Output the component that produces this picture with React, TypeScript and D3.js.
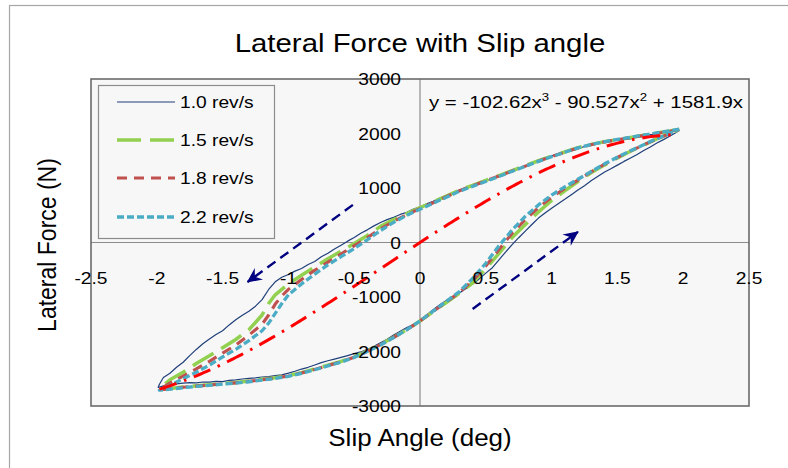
import React from "react";
import * as d3 from "d3";

type P = [number, number];

// ---------- data ----------
const xTicks = [-2.5, -2, -1.5, -1, -0.5, 0, 0.5, 1, 1.5, 2, 2.5];
const xTickLabels = ["-2.5", "-2", "-1.5", "-1", "-0.5", "0", "0.5", "1", "1.5", "2", "2.5"];
const yTicks = [-3000, -2000, -1000, 0, 1000, 2000, 3000];
const yTickLabels = ["-3000", "-2000", "-1000", "0", "1000", "2000", "3000"];

const seriesNames = ["1.0 rev/s", "1.5 rev/s", "1.8 rev/s", "2.2 rev/s"];

const rev10: P[] = [
  [1.96, 2040], [1.93, 2045], [1.90, 2025], [1.85, 2012], [1.80, 1985], [1.75, 1978], [1.70, 1948], [1.65, 1932],
  [1.60, 1902], [1.55, 1892], [1.50, 1875], [1.45, 1862], [1.40, 1836], [1.35, 1822], [1.30, 1785], [1.25, 1762],
  [1.20, 1722], [1.15, 1700], [1.10, 1662], [1.05, 1632], [1.00, 1585], [0.95, 1545], [0.90, 1488], [0.85, 1448],
  [0.80, 1392], [0.75, 1350], [0.70, 1296], [0.65, 1258], [0.60, 1212], [0.55, 1172], [0.50, 1125], [0.45, 1092],
  [0.40, 1045], [0.35, 1012], [0.30, 962], [0.25, 918], [0.20, 862], [0.15, 815], [0.10, 756], [0.05, 712],
  [0.00, 652], [-0.05, 612], [-0.10, 556], [-0.15, 515], [-0.20, 462], [-0.25, 420], [-0.30, 366], [-0.35, 305],
  [-0.40, 232], [-0.45, 168], [-0.50, 92], [-0.55, 25], [-0.60, -52], [-0.65, -118], [-0.70, -198], [-0.75, -262],
  [-0.80, -348], [-0.85, -405], [-0.90, -478], [-0.95, -525], [-1.00, -588], [-1.05, -638], [-1.10, -722],
  [-1.15, -862], [-1.20, -1048], [-1.25, -1168], [-1.30, -1262], [-1.35, -1335], [-1.40, -1418], [-1.45, -1512],
  [-1.50, -1618], [-1.55, -1690], [-1.60, -1772], [-1.65, -1858], [-1.70, -1962], [-1.75, -2075], [-1.80, -2198],
  [-1.85, -2290], [-1.90, -2398], [-1.95, -2478], [-1.98, -2600],
  [-1.99, -2660], [-1.95, -2630], [-1.90, -2612], [-1.85, -2595], [-1.80, -2582], [-1.75, -2570], [-1.70, -2575],
  [-1.65, -2560], [-1.60, -2562], [-1.55, -2548], [-1.50, -2552], [-1.45, -2530], [-1.40, -2522], [-1.35, -2505],
  [-1.30, -2492], [-1.25, -2485], [-1.20, -2468], [-1.15, -2460], [-1.10, -2442], [-1.05, -2428], [-1.00, -2398],
  [-0.95, -2362], [-0.90, -2322], [-0.85, -2290], [-0.80, -2248], [-0.75, -2205], [-0.70, -2170], [-0.65, -2140],
  [-0.60, -2108], [-0.55, -2075], [-0.50, -2040], [-0.45, -2008], [-0.40, -1962], [-0.35, -1905], [-0.30, -1838],
  [-0.25, -1775], [-0.20, -1698], [-0.15, -1630], [-0.10, -1562], [-0.05, -1505], [0.00, -1432], [0.05, -1328],
  [0.10, -1232], [0.15, -1140], [0.20, -1062], [0.25, -995], [0.30, -928], [0.35, -845], [0.40, -762], [0.45, -668],
  [0.50, -562], [0.55, -462], [0.60, -318], [0.65, -175], [0.70, -38], [0.75, 88], [0.80, 208], [0.85, 330],
  [0.90, 448], [0.95, 542], [1.00, 628], [1.05, 710], [1.10, 792], [1.15, 878], [1.20, 965], [1.25, 1042],
  [1.30, 1132], [1.35, 1210], [1.40, 1288], [1.45, 1352], [1.50, 1420], [1.55, 1488], [1.60, 1552], [1.65, 1615],
  [1.70, 1688], [1.75, 1752], [1.80, 1825], [1.85, 1888], [1.90, 1955], [1.94, 2010], [1.96, 2040],
];

const rev15: P[] = [
  [1.97, 2075], [1.9, 2045], [1.8, 2010], [1.7, 1968], [1.6, 1928], [1.5, 1888], [1.4, 1848], [1.3, 1800],
  [1.2, 1740], [1.1, 1660], [1.0, 1585], [0.9, 1500], [0.8, 1410], [0.7, 1320], [0.6, 1228], [0.5, 1140],
  [0.4, 1050], [0.3, 962], [0.2, 852], [0.1, 742], [0, 640], [-0.1, 530], [-0.2, 420], [-0.3, 295], [-0.4, 130],
  [-0.5, -20], [-0.6, -160], [-0.7, -300], [-0.8, -450], [-0.9, -600], [-1.0, -760], [-1.05, -860], [-1.1, -960],
  [-1.15, -1120], [-1.2, -1330], [-1.3, -1600], [-1.4, -1780], [-1.5, -1930], [-1.6, -2080], [-1.7, -2220],
  [-1.8, -2380], [-1.9, -2520], [-1.98, -2680],
  [-1.98, -2700], [-1.9, -2680], [-1.8, -2650], [-1.7, -2630], [-1.6, -2610], [-1.5, -2590], [-1.4, -2570],
  [-1.3, -2540], [-1.2, -2510], [-1.1, -2480], [-1.0, -2440], [-0.9, -2390], [-0.8, -2320], [-0.7, -2250],
  [-0.6, -2180], [-0.5, -2100], [-0.4, -1990], [-0.3, -1870], [-0.2, -1740], [-0.1, -1600], [0, -1440],
  [0.1, -1270], [0.2, -1100], [0.3, -930], [0.4, -740], [0.5, -480], [0.6, -200], [0.7, 90], [0.8, 330],
  [0.9, 560], [1.0, 770], [1.1, 950], [1.2, 1120], [1.3, 1280], [1.4, 1420], [1.5, 1550], [1.6, 1675],
  [1.7, 1790], [1.8, 1900], [1.9, 2000], [1.97, 2075],
];

const rev18: P[] = [
  [1.97, 2070], [1.9, 2040], [1.8, 2005], [1.7, 1965], [1.6, 1925], [1.5, 1885], [1.4, 1845], [1.3, 1795],
  [1.2, 1735], [1.1, 1655], [1.0, 1578], [0.9, 1492], [0.8, 1402], [0.7, 1312], [0.6, 1220], [0.5, 1130],
  [0.4, 1040], [0.3, 950], [0.2, 840], [0.1, 730], [0, 620], [-0.1, 510], [-0.2, 390], [-0.3, 250], [-0.4, 90],
  [-0.5, -60], [-0.6, -210], [-0.7, -360], [-0.8, -510], [-0.9, -680], [-1.0, -860], [-1.05, -980], [-1.1, -1130],
  [-1.15, -1330], [-1.2, -1500], [-1.3, -1700], [-1.4, -1880], [-1.5, -2030], [-1.6, -2180], [-1.7, -2320],
  [-1.8, -2450], [-1.9, -2580], [-1.98, -2700],
  [-1.98, -2705], [-1.9, -2685], [-1.8, -2655], [-1.7, -2635], [-1.6, -2615], [-1.5, -2595], [-1.4, -2575],
  [-1.3, -2548], [-1.2, -2518], [-1.1, -2488], [-1.0, -2448], [-0.9, -2395], [-0.8, -2328], [-0.7, -2258],
  [-0.6, -2188], [-0.5, -2105], [-0.4, -1995], [-0.3, -1875], [-0.2, -1742], [-0.1, -1600], [0, -1440],
  [0.1, -1265], [0.2, -1090], [0.3, -915], [0.4, -700], [0.5, -430], [0.6, -130], [0.7, 170], [0.8, 420],
  [0.9, 640], [1.0, 830], [1.1, 990], [1.2, 1145], [1.3, 1295], [1.4, 1432], [1.5, 1560], [1.6, 1680],
  [1.7, 1792], [1.8, 1902], [1.9, 2002], [1.97, 2070],
];

const rev22: P[] = [
  [1.97, 2080], [1.9, 2050], [1.8, 2012], [1.7, 1972], [1.6, 1930], [1.5, 1890], [1.4, 1848], [1.3, 1798],
  [1.2, 1736], [1.1, 1656], [1.0, 1575], [0.9, 1488], [0.8, 1398], [0.7, 1306], [0.6, 1212], [0.5, 1120],
  [0.4, 1030], [0.3, 940], [0.2, 830], [0.1, 720], [0, 610], [-0.1, 500], [-0.2, 370], [-0.3, 220], [-0.4, 50],
  [-0.5, -110], [-0.6, -260], [-0.7, -410], [-0.8, -580], [-0.9, -760], [-1.0, -960], [-1.05, -1120], [-1.1, -1300],
  [-1.15, -1480], [-1.2, -1620], [-1.3, -1800], [-1.4, -1960], [-1.5, -2100], [-1.6, -2250], [-1.7, -2380],
  [-1.8, -2500], [-1.9, -2620], [-1.98, -2710],
  [-1.98, -2710], [-1.9, -2690], [-1.8, -2665], [-1.7, -2640], [-1.6, -2620], [-1.5, -2600], [-1.4, -2580],
  [-1.3, -2555], [-1.2, -2525], [-1.1, -2495], [-1.0, -2455], [-0.9, -2400], [-0.8, -2335], [-0.7, -2265],
  [-0.6, -2195], [-0.5, -2110], [-0.4, -2000], [-0.3, -1880], [-0.2, -1745], [-0.1, -1600], [0, -1440],
  [0.1, -1260], [0.2, -1080], [0.3, -900], [0.4, -660], [0.5, -380], [0.6, -60], [0.7, 230], [0.8, 480],
  [0.9, 690], [1.0, 870], [1.1, 1020], [1.2, 1160], [1.3, 1300], [1.4, 1440], [1.5, 1565], [1.6, 1685],
  [1.7, 1795], [1.8, 1905], [1.9, 2005], [1.97, 2080],
];

// trendline coefficients shown on the chart: a3, a2, a1, a0
const fitCoef = [-102.62, -90.527, 1581.9, 0];
const fitRange = [-1.98, 1.97];

// direction arrows (data coordinates): [from, to]
const arrows: [P, P][] = [
  [[-0.51, 690], [-1.31, -725]],
  [[0.4, -1220], [1.2, 195]],
];

// ---------- layout ----------
const W = 788, H = 468;
const plot = { left: 91, right: 749, top: 79, bottom: 406 };
const x = d3.scaleLinear().domain([-2.5, 2.5]).range([plot.left, plot.right]);
const y = d3.scaleLinear().domain([-3000, 3000]).range([plot.bottom, plot.top]);

const styles = [
  { color: "#1f3f7a", width: 1.2, dash: "none" },
  { color: "#92d050", width: 3.5, dash: "24 9" },
  { color: "#c0504d", width: 3.1, dash: "10 7" },
  { color: "#4bacc6", width: 3.3, dash: "7 3" },
];
const seriesData = [rev10, rev15, rev18, rev22];

const line = d3.line<P>().x((d) => x(d[0])).y((d) => y(d[1]));

const FONT = "'Liberation Sans', Arial, sans-serif";

function Txt(props: { x: number; y: number; size: number; sx?: number; anchor?: string; rotate?: number; children: React.ReactNode }) {
  const { sx = 1.2, anchor = "start", rotate = 0 } = props;
  const t = rotate
    ? `translate(${props.x},${props.y}) rotate(${rotate}) scale(1,${sx})`
    : `translate(${props.x},${props.y}) scale(${sx},1)`;
  return (
    <text transform={t} fontSize={props.size} fontFamily={FONT} textAnchor={anchor as any} fill="#000">
      {props.children}
    </text>
  );
}

export default function App() {
  const fitX = d3.range(fitRange[0], fitRange[1] + 1e-9, 0.02);
  const fitPts: P[] = fitX.map((v) => [v, fitCoef[0] * v ** 3 + fitCoef[1] * v ** 2 + fitCoef[2] * v + fitCoef[3]]);

  const legendX = 98.5, legendY = 85.5, legendW = 176, legendH = 153;
  const legendRows = [102, 140, 178, 217];

  return (
    <svg width={W} height={H} style={{ position: "absolute", left: 0, top: 0, background: "#fff" }}>
      <defs>
        <marker id="ah" viewBox="-16 -8 18 16" markerWidth={18} markerHeight={16} refX={0} refY={0} orient="auto" markerUnits="userSpaceOnUse">
          <path d="M1,0 L-14,-7 L-9,0 L-14,7 Z" fill="#000080" />
        </marker>
      </defs>
      {/* outer chart frame */}
      <rect x={9.5} y={5.5} width={900} height={600} fill="#fff" stroke="#a6a6a6" strokeWidth={1.2} />

      {/* plot area */}
      <rect x={plot.left} y={plot.top} width={plot.right - plot.left} height={plot.bottom - plot.top} fill="#f7f7f7" />

      {/* axes lines through origin */}
      <line x1={plot.left} x2={plot.right} y1={y(0)} y2={y(0)} stroke="#8c8c8c" strokeWidth={1.2} />
      <line x1={x(0)} x2={x(0)} y1={plot.top} y2={plot.bottom} stroke="#8c8c8c" strokeWidth={1.2} />

      <rect x={plot.left} y={plot.top} width={plot.right - plot.left} height={plot.bottom - plot.top} fill="none" stroke="#6b6b6b" strokeWidth={1.6} />

      {/* series */}
      {seriesData.map((d, i) => (
        <path key={i} d={line(d) || ""} fill="none" stroke={styles[i].color} strokeWidth={styles[i].width}
          strokeDasharray={styles[i].dash} strokeLinejoin="round" />
      ))}

      {/* trendline */}
      <path d={line(fitPts) || ""} fill="none" stroke="#ff0000" strokeWidth={3} strokeDasharray="18 8 2.5 8" />

      {/* arrows */}
      {arrows.map((a, i) => (
        <line key={i} x1={x(a[0][0])} y1={y(a[0][1])} x2={x(a[1][0])} y2={y(a[1][1])} stroke="#000080"
          strokeWidth={2.4} strokeDasharray="10 6" markerEnd="url(#ah)" />
      ))}

      {/* tick labels */}
      {xTicks.map((t, i) => (
        <Txt key={"x" + i} x={x(t)} y={284} size={16} anchor="middle">{xTickLabels[i]}</Txt>
      ))}
      {yTicks.map((t, i) => (
        <Txt key={"y" + i} x={401} y={y(t) + 6} size={16} anchor="end">{yTickLabels[i]}</Txt>
      ))}

      {/* legend */}
      <rect x={legendX} y={legendY} width={legendW} height={legendH} fill="#f7f7f7" stroke="#8c8c8c" strokeWidth={1.2} />
      {seriesNames.map((n, i) => (
        <g key={n}>
          <line x1={117} x2={175} y1={legendRows[i]} y2={legendRows[i]} stroke={styles[i].color}
            strokeWidth={styles[i].width} strokeDasharray={styles[i].dash} />
          <Txt x={180} y={legendRows[i] + 6} size={16}>{n}</Txt>
        </g>
      ))}

      {/* equation */}
      <text transform="translate(429,108) scale(1.2,1)" fontSize={17} fontFamily={FONT} fill="#000">
        y = -102.62x<tspan dy={-7} fontSize={11}>3</tspan><tspan dy={7}> - 90.527x</tspan>
        <tspan dy={-7} fontSize={11}>2</tspan><tspan dy={7}> + 1581.9x</tspan>
      </text>

      {/* titles */}
      <Txt x={420} y={52} size={26} sx={1.13} anchor="middle">Lateral Force with Slip angle</Txt>
      <Txt x={420} y={446} size={23} sx={1.13} anchor="middle">Slip Angle (deg)</Txt>
      <Txt x={56} y={245} size={23} sx={1.13} anchor="middle" rotate={-90}>Lateral Force (N)</Txt>
    </svg>
  );
}
